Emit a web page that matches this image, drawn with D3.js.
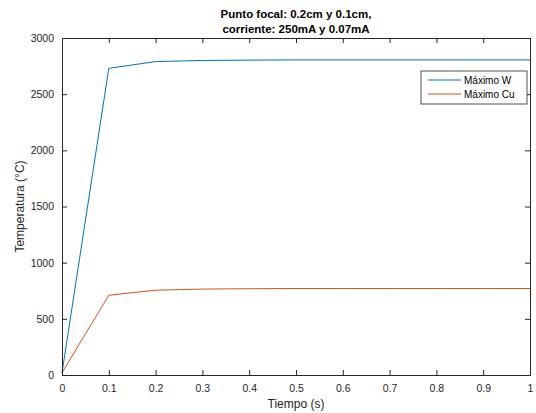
<!DOCTYPE html>
<html>
<head>
<meta charset="utf-8">
<script src="https://cdn.jsdelivr.net/npm/d3@7"></script>
<style>
  body { margin: 0; background: #fff; }
  svg { display: block; font-family: Arial, "Liberation Sans", sans-serif; }
</style>
</head>
<body>
<div id="chart"></div>
<script>
const tiempo = [0, 0.1, 0.2, 0.3, 0.4, 0.5, 0.6, 0.7, 0.8, 0.9, 1.0]
const maxW = [20, 2730, 2790, 2800, 2803, 2805, 2805, 2805, 2805, 2805, 2805]
const maxCu = [20, 710, 755, 765, 768, 770, 770, 770, 770, 770, 770]
const seriesNames = ['Máximo W', 'Máximo Cu']
const seriesColors = ['#0072BD', '#D95319']
const xTicks = [0, 0.1, 0.2, 0.3, 0.4, 0.5, 0.6, 0.7, 0.8, 0.9, 1]
const yTicks = [0, 500, 1000, 1500, 2000, 2500, 3000]

const width = 536
const height = 413
const margin = { top: 38, right: 6, bottom: 38, left: 62 }
const innerW = width - margin.left - margin.right
const innerH = height - margin.top - margin.bottom
const axisColor = '#262626'

const svg = d3.select('#chart').append('svg')
  .attr('width', width)
  .attr('height', height)

const bounds = svg.append('g')
  .attr('transform', `translate(${margin.left}, ${margin.top})`)

const xScale = d3.scaleLinear().domain([0, 1]).range([0, innerW])
const yScale = d3.scaleLinear().domain([0, 3000]).range([innerH, 0])

// lines
const series = [maxW, maxCu]
const line = d3.line()
  .x((d, i) => xScale(tiempo[i]))
  .y((d) => yScale(d))

series.forEach((values, i) => {
  bounds.append('path')
    .datum(values)
    .attr('fill', 'none')
    .attr('stroke', seriesColors[i])
    .attr('stroke-width', 1)
    .attr('d', line)
})

// axes (MATLAB style box with inward ticks)
const styleAxis = (g) => {
  g.select('.domain').attr('stroke', axisColor)
  g.selectAll('.tick line').attr('stroke', axisColor)
  g.selectAll('.tick text').attr('fill', axisColor).style('font-size', '10.5px')
}

bounds.append('g')
  .attr('transform', `translate(0, ${innerH})`)
  .call(d3.axisBottom(xScale).tickValues(xTicks).tickSize(-5).tickPadding(10)
    .tickFormat(d3.format('')))
  .call(styleAxis)

bounds.append('g')
  .call(d3.axisTop(xScale).tickValues(xTicks).tickSize(-5).tickFormat(''))
  .call(styleAxis)

bounds.append('g')
  .call(d3.axisLeft(yScale).tickValues(yTicks).tickSize(-5).tickPadding(8)
    .tickFormat(d3.format('d')))
  .call(styleAxis)

bounds.append('g')
  .attr('transform', `translate(${innerW}, 0)`)
  .call(d3.axisRight(yScale).tickValues(yTicks).tickSize(-5).tickFormat(''))
  .call(styleAxis)

bounds.selectAll('.domain').attr('stroke-width', 1)

// title
const title = svg.append('text')
  .attr('x', margin.left + innerW / 2)
  .attr('text-anchor', 'middle')
  .attr('font-weight', 'bold')
  .style('font-size', '11.5px')
  .attr('fill', '#000')
title.append('tspan').attr('x', margin.left + innerW / 2).attr('y', 18)
  .text('Punto focal: 0.2cm y 0.1cm,')
title.append('tspan').attr('x', margin.left + innerW / 2).attr('y', 33)
  .text('corriente: 250mA y 0.07mA')

// axis labels
svg.append('text')
  .attr('x', margin.left + innerW / 2)
  .attr('y', 408)
  .attr('text-anchor', 'middle')
  .attr('fill', axisColor)
  .style('font-size', '12px')
  .text('Tiempo (s)')

svg.append('text')
  .attr('transform', `translate(24, ${margin.top + innerH / 2}) rotate(-90)`)
  .attr('text-anchor', 'middle')
  .attr('fill', axisColor)
  .style('font-size', '12px')
  .text('Temperatura (°C)')

// legend
const legend = bounds.append('g')
  .attr('transform', `translate(${innerW - 109}, 33)`)
legend.append('rect')
  .attr('width', 106)
  .attr('height', 33)
  .attr('fill', '#fff')
  .attr('stroke', axisColor)
  .attr('stroke-width', 0.8)
seriesNames.forEach((name, i) => {
  const y = 9 + i * 14
  legend.append('line')
    .attr('x1', 7).attr('x2', 40)
    .attr('y1', y).attr('y2', y)
    .attr('stroke', seriesColors[i])
  legend.append('text')
    .attr('x', 43).attr('y', y + 3.5)
    .attr('fill', '#000')
    .style('font-size', '10px')
    .text(name)
})
</script>
</body>
</html>
